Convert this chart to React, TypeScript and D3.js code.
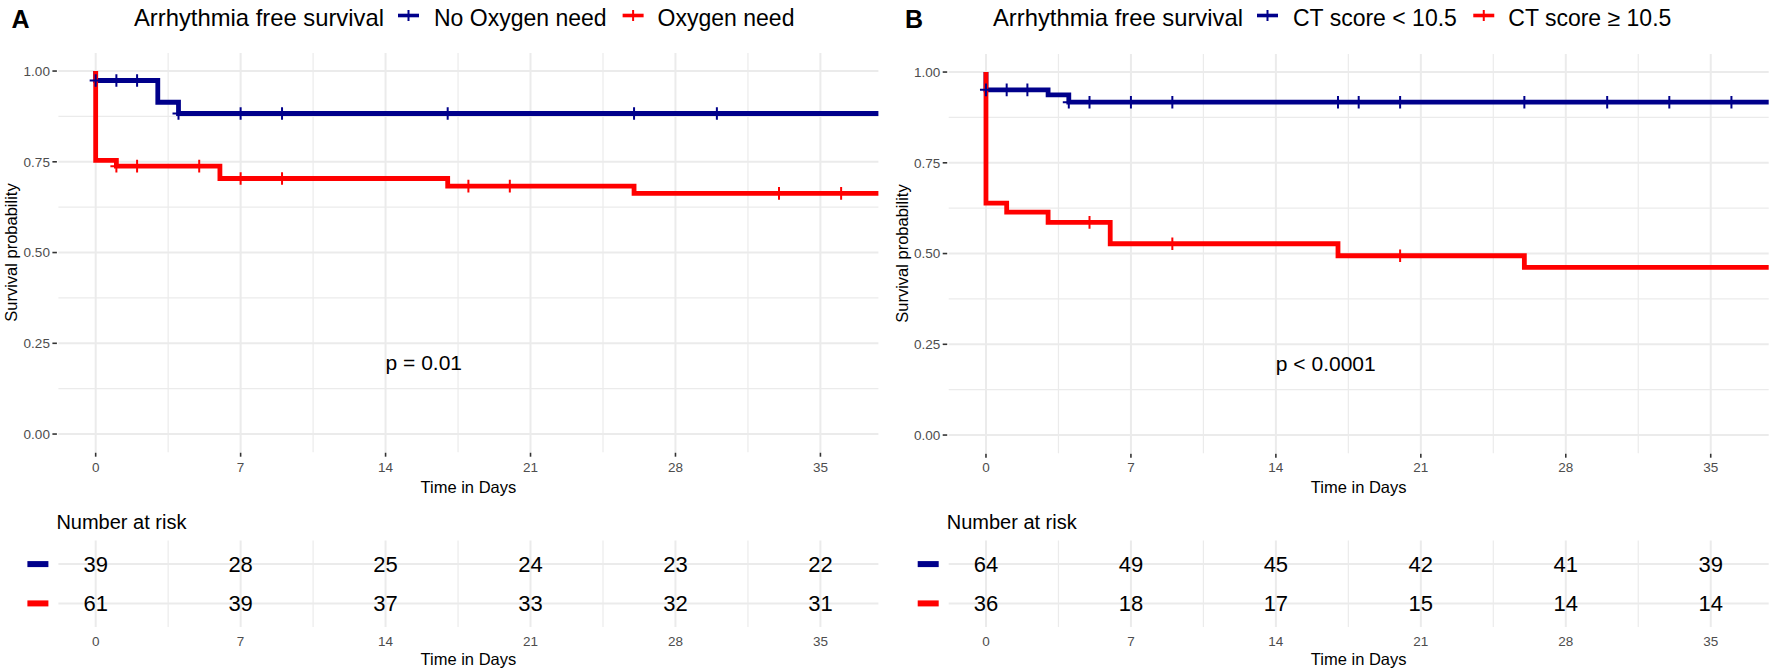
import React from 'react';
import * as d3 from 'd3';

const W = 1772;
const H = 672;
const FONT = "'Liberation Sans', Arial, Helvetica, sans-serif";

// shared axis data
const timeTicks = [0, 7, 14, 21, 28, 35];
const timeMinor = [3.5, 10.5, 17.5, 24.5, 31.5];
const survTicks = [0, 0.25, 0.5, 0.75, 1];
const survTickLabels = ['0.00', '0.25', '0.50', '0.75', '1.00'];
const survMinor = [0.125, 0.375, 0.625, 0.875];
const xLimits = [0, 36];
const followUpEnd = 40;
const riskTimes = [0, 7, 14, 21, 28, 35];
const legendTitle = 'Arrhythmia free survival';
const xTitle = 'Time in Days';
const yTitle = 'Survival probability';
const riskTitle = 'Number at risk';
const colors = ['#00008B', '#FF0000'];

// Panel A
const aLabel = 'A';
const aStrata = ['No Oxygen need', 'Oxygen need'];
const aBlueTimes = [0, 3, 4];
const aBlueSurv = [0.974, 0.914, 0.883];
const aBlueCensor = [0, 1, 2, 4, 7, 9, 17, 26, 30];
const aRedTimes = [0, 1, 6, 17, 26];
const aRedSurv = [0.754, 0.738, 0.704, 0.683, 0.663];
const aRedCensor = [1, 2, 5, 7, 9, 18, 20, 33, 36];
const aRiskBlue = [39, 28, 25, 24, 23, 22];
const aRiskRed = [61, 39, 37, 33, 32, 31];
const aPValue = 'p = 0.01';

// Panel B
const bLabel = 'B';
const bStrata = ['CT score < 10.5', 'CT score \u2265 10.5'];
const bBlueTimes = [0, 3, 4];
const bBlueSurv = [0.951, 0.937, 0.917];
const bBlueCensor = [0, 1, 2, 4, 5, 7, 9, 17, 18, 20, 26, 30, 33, 36];
const bRedTimes = [0, 1, 3, 6, 17, 26];
const bRedSurv = [0.639, 0.614, 0.586, 0.527, 0.494, 0.462];
const bRedCensor = [5, 9, 20];
const bRiskBlue = [64, 49, 45, 42, 41, 39];
const bRiskRed = [36, 18, 17, 15, 14, 14];
const bPValue = 'p < 0.0001';
const pValueCoord = [14, 0.2];

let measureCtx: CanvasRenderingContext2D | null = null;
function textWidth(s: string, size: number) {
  if (!measureCtx) {
    const c = document.createElement('canvas');
    measureCtx = c.getContext('2d');
  }
  if (!measureCtx) return s.length * size * 0.5;
  measureCtx.font = `${size}px "Liberation Sans", Arial, sans-serif`;
  return measureCtx.measureText(s).width;
}

type Series = { times: number[]; surv: number[]; censor: number[] };

function survAt(s: Series, t: number) {
  let v = 1;
  s.times.forEach((ti, i) => {
    if (ti <= t) v = s.surv[i];
  });
  return v;
}

type PanelProps = {
  id: string;
  left: number;
  yShift: number;
  label: string;
  labelX: number;
  legendX: number;
  strata: string[];
  series: Series[];
  risk: number[][];
  pValue: string;
};

function Panel(p: PanelProps) {
  const panelW = 820;
  const pad = (xLimits[1] - xLimits[0]) * 0.05;
  const x = d3
    .scaleLinear()
    .domain([xLimits[0] - pad, xLimits[1] + pad])
    .range([p.left, p.left + panelW]);
  const y = d3.scaleLinear().domain([-0.05, 1.05]).range([452.2 + p.yShift, 52.9 + p.yShift]);
  const yr = d3.scaleLinear().domain([0.4, 2.6]).range([540.5, 627]);
  const [x0, x1] = x.range();
  const [yb, yt] = y.range();
  const [ryt, ryb] = yr.range();

  const line = d3
    .line<[number, number]>()
    .x((d) => x(d[0]))
    .y((d) => y(d[1]))
    .curve(d3.curveStepAfter);

  const paths = p.series.map((s) => {
    const pts: [number, number][] = [[0, 1]];
    s.times.forEach((t, i) => pts.push([t, s.surv[i]]));
    pts.push([followUpEnd, s.surv[s.surv.length - 1]]);
    return line(pts) || '';
  });

  // legend layout
  const titleSize = 23.8;
  const labSize = 23;
  const key1 = p.legendX + 264;
  const lab1 = p.legendX + 300;
  const key2 = lab1 + textWidth(p.strata[0], labSize) + 16;
  const lab2 = key2 + 35;
  const keys = [
    { kx: key1, lx: lab1, text: p.strata[0], c: colors[0] },
    { kx: key2, lx: lab2, text: p.strata[1], c: colors[1] },
  ];

  const clipId = `clip-${p.id}`;

  return (
    <g>
      <defs>
        <clipPath id={clipId}>
          <rect x={x0} y={yt} width={x1 - x0} height={yb - yt} />
        </clipPath>
      </defs>
      {/* panel label and legend */}
      <text x={p.labelX} y={28} fontSize={25} fontWeight="bold" fontFamily={FONT} fill="#000">
        {p.label}
      </text>
      <text x={p.legendX} y={26} fontSize={titleSize} fontFamily={FONT} fill="#000">
        {legendTitle}
      </text>
      {keys.map((k, i) => (
        <g key={i}>
          <line x1={k.kx} x2={k.kx + 21} y1={15.5} y2={15.5} stroke={k.c} strokeWidth={3.6} />
          <line x1={k.kx + 10.5} x2={k.kx + 10.5} y1={10} y2={21} stroke={k.c} strokeWidth={2} />
          <text x={k.lx} y={26} fontSize={labSize} fontFamily={FONT} fill="#000">
            {k.text}
          </text>
        </g>
      ))}

      {/* grid */}
      {survMinor.map((v) => (
        <line key={'ym' + v} x1={x0} x2={x1} y1={y(v)} y2={y(v)} stroke="#EBEBEB" strokeWidth={1.2} />
      ))}
      {timeMinor.map((v) => (
        <line key={'xm' + v} x1={x(v)} x2={x(v)} y1={yt} y2={yb} stroke="#EBEBEB" strokeWidth={1.2} />
      ))}
      {survTicks.map((v) => (
        <line key={'yM' + v} x1={x0} x2={x1} y1={y(v)} y2={y(v)} stroke="#EBEBEB" strokeWidth={2} />
      ))}
      {timeTicks.map((v) => (
        <line key={'xM' + v} x1={x(v)} x2={x(v)} y1={yt} y2={yb} stroke="#EBEBEB" strokeWidth={2} />
      ))}

      {/* axes */}
      {survTicks.map((v, i) => (
        <g key={'yt' + v}>
          <line x1={x0 - 6} x2={x0 - 1.5} y1={y(v)} y2={y(v)} stroke="#333" strokeWidth={1.6} />
          <text
            x={x0 - 8.5}
            y={y(v) + 4.8}
            textAnchor="end"
            fontSize={13.5}
            fontFamily={FONT}
            fill="#4D4D4D"
          >
            {survTickLabels[i]}
          </text>
        </g>
      ))}
      {timeTicks.map((v) => (
        <g key={'xt' + v}>
          <line x1={x(v)} x2={x(v)} y1={yb + 0.5} y2={yb + 4.5} stroke="#333" strokeWidth={1.6} />
          <text x={x(v)} y={471.5} textAnchor="middle" fontSize={13.5} fontFamily={FONT} fill="#4D4D4D">
            {v}
          </text>
        </g>
      ))}
      <text
        x={(x0 + x1) / 2}
        y={492.5}
        textAnchor="middle"
        fontSize={16.5}
        fontFamily={FONT}
        fill="#000"
      >
        {xTitle}
      </text>
      <text
        transform={`translate(${x0 - 41},${(yt + yb) / 2}) rotate(-90)`}
        textAnchor="middle"
        fontSize={16.5}
        fontFamily={FONT}
        fill="#000"
      >
        {yTitle}
      </text>

      {/* curves */}
      <g clipPath={`url(#${clipId})`}>
        {paths.map((d, i) => (
          <path
            key={'c' + i}
            d={d}
            fill="none"
            stroke={colors[i]}
            strokeWidth={4.8}
            strokeLinejoin="miter"
            strokeLinecap="butt"
          />
        ))}
        {p.series.map((s, i) =>
          s.censor.map((t, j) => {
            const cx = x(t);
            const cy = y(survAt(s, t));
            return (
              <g key={`m${i}-${j}`} stroke={colors[i]} strokeWidth={2}>
                <line x1={cx} x2={cx} y1={cy - 6.3} y2={cy + 6.3} />
                <line x1={cx - 6} x2={cx + 6} y1={cy} y2={cy} />
              </g>
            );
          })
        )}
      </g>

      {/* p-value */}
      <text
        x={x(pValueCoord[0])}
        y={y(pValueCoord[1]) + 8.5}
        fontSize={21}
        fontFamily={FONT}
        fill="#000"
      >
        {p.pValue}
      </text>

      {/* risk table */}
      <text x={x0 - 2} y={528.5} fontSize={20} fontFamily={FONT} fill="#000">
        {riskTitle}
      </text>
      {timeMinor.map((v) => (
        <line key={'rxm' + v} x1={x(v)} x2={x(v)} y1={ryt} y2={ryb} stroke="#EBEBEB" strokeWidth={1.2} />
      ))}
      {timeTicks.map((v) => (
        <line key={'rxM' + v} x1={x(v)} x2={x(v)} y1={ryt} y2={ryb} stroke="#EBEBEB" strokeWidth={2} />
      ))}
      {p.risk.map((row, i) => (
        <g key={'r' + i}>
          <line x1={x0} x2={x1} y1={yr(i + 1)} y2={yr(i + 1)} stroke="#EBEBEB" strokeWidth={2} />
          <rect x={x0 - 31} y={yr(i + 1) - 3} width={21} height={6} fill={colors[i]} />
          {row.map((n, j) => (
            <text
              key={j}
              x={x(riskTimes[j])}
              y={yr(i + 1) + 7.8}
              textAnchor="middle"
              fontSize={22}
              fontFamily={FONT}
              fill="#000"
            >
              {n}
            </text>
          ))}
        </g>
      ))}
      {timeTicks.map((v) => (
        <text key={'rxt' + v} x={x(v)} y={645.5} textAnchor="middle" fontSize={13.5} fontFamily={FONT} fill="#4D4D4D">
          {v}
        </text>
      ))}
      <text x={(x0 + x1) / 2} y={665} textAnchor="middle" fontSize={16.5} fontFamily={FONT} fill="#000">
        {xTitle}
      </text>
    </g>
  );
}

export default function App() {
  const aSeries: Series[] = [
    { times: aBlueTimes, surv: aBlueSurv, censor: aBlueCensor },
    { times: aRedTimes, surv: aRedSurv, censor: aRedCensor },
  ];
  const bSeries: Series[] = [
    { times: bBlueTimes, surv: bBlueSurv, censor: bBlueCensor },
    { times: bRedTimes, surv: bRedSurv, censor: bRedCensor },
  ];
  return (
    <svg
      width={W}
      height={H}
      viewBox={`0 0 ${W} ${H}`}
      style={{ position: 'absolute', left: 0, top: 0, background: '#fff' }}
    >
      <rect x={0} y={0} width={W} height={H} fill="#fff" />
      <Panel
        id="a"
        left={58.4}
        yShift={0}
        label={aLabel}
        labelX={11.5}
        legendX={134}
        strata={aStrata}
        series={aSeries}
        risk={[aRiskBlue, aRiskRed]}
        pValue={aPValue}
      />
      <Panel
        id="b"
        left={948.7}
        yShift={1}
        label={bLabel}
        labelX={905}
        legendX={993}
        strata={bStrata}
        series={bSeries}
        risk={[bRiskBlue, bRiskRed]}
        pValue={bPValue}
      />
    </svg>
  );
}
